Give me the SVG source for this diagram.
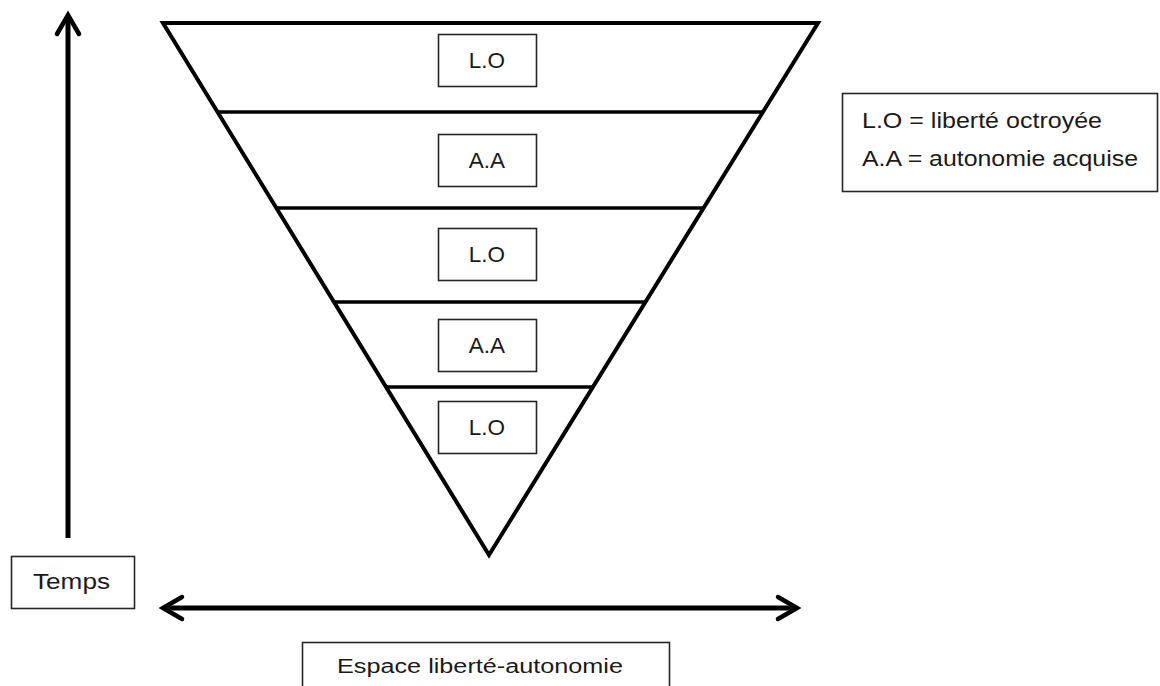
<svg xmlns="http://www.w3.org/2000/svg" width="1160" height="686" viewBox="0 0 1160 686">
<style>
  .box { fill: #ffffff; stroke: #262626; stroke-width: 1.6; }
  .lbl { font-family: "Liberation Sans", Arial, sans-serif; fill: #1a1a1a; }
  .tri { fill: #ffffff; stroke: #000000; stroke-width: 4; stroke-linejoin: miter; }
  .band { stroke: #000000; stroke-width: 3.5; }
  .axis { stroke: #000000; stroke-width: 5; fill: none; }
</style>
<defs>
  <marker id="chev" markerUnits="userSpaceOnUse" markerWidth="30" markerHeight="30" refX="19" refY="12" orient="auto-start-reverse" overflow="visible">
    <path d="M3,1 L22,12 L3,23" fill="none" stroke="#000" stroke-width="4.5" stroke-linecap="round" stroke-linejoin="miter"/>
  </marker>
</defs>
<rect width="1160" height="686" fill="#ffffff"/>

<g id="triangle">
  <polygon class="tri" points="163,23 818,23 489,555"/>
  <line class="band" x1="217" y1="112" x2="763" y2="112"/>
  <line class="band" x1="276" y1="208" x2="704" y2="208"/>
  <line class="band" x1="334" y1="302" x2="645" y2="302"/>
  <line class="band" x1="386" y1="387" x2="592" y2="387"/>
</g>

<g id="band1">
  <rect class="box" x="438.5" y="34.5" width="98" height="52"/>
  <text class="lbl" x="487" y="68" font-size="22.5" text-anchor="middle">L.O</text>
</g>
<g id="band2">
  <rect class="box" x="438.5" y="134.5" width="98" height="52"/>
  <text class="lbl" x="487" y="168" font-size="22.5" text-anchor="middle">A.A</text>
</g>
<g id="band3">
  <rect class="box" x="438.5" y="228.5" width="98" height="52"/>
  <text class="lbl" x="487" y="262" font-size="22.5" text-anchor="middle">L.O</text>
</g>
<g id="band4">
  <rect class="box" x="438.5" y="319.5" width="98" height="52"/>
  <text class="lbl" x="487" y="353" font-size="22.5" text-anchor="middle">A.A</text>
</g>
<g id="band5">
  <rect class="box" x="438.5" y="401.5" width="98" height="52"/>
  <text class="lbl" x="487" y="435" font-size="22.5" text-anchor="middle">L.O</text>
</g>

<g id="legend">
  <rect class="box" x="842.5" y="93.5" width="315" height="98"/>
  <text class="lbl" x="862" y="128" font-size="21.5" textLength="240" lengthAdjust="spacingAndGlyphs">L.O = liberté octroyée</text>
  <text class="lbl" x="862" y="166" font-size="21.5" textLength="276" lengthAdjust="spacingAndGlyphs">A.A = autonomie acquise</text>
</g>

<g id="temps">
  <rect class="box" x="11.5" y="556.5" width="123" height="52"/>
  <text class="lbl" x="33" y="589" font-size="22" textLength="77" lengthAdjust="spacingAndGlyphs">Temps</text>
</g>

<g id="espace">
  <rect class="box" x="302.5" y="642.5" width="367" height="60"/>
  <text class="lbl" x="337" y="673" font-size="20" textLength="286" lengthAdjust="spacingAndGlyphs">Espace liberté-autonomie</text>
</g>

<g id="connectors">
  <line class="axis" x1="68" y1="538" x2="68" y2="18" marker-end="url(#chev)"/>
  <line class="axis" x1="166" y1="608" x2="794" y2="608" marker-start="url(#chev)" marker-end="url(#chev)"/>
</g>
</svg>
